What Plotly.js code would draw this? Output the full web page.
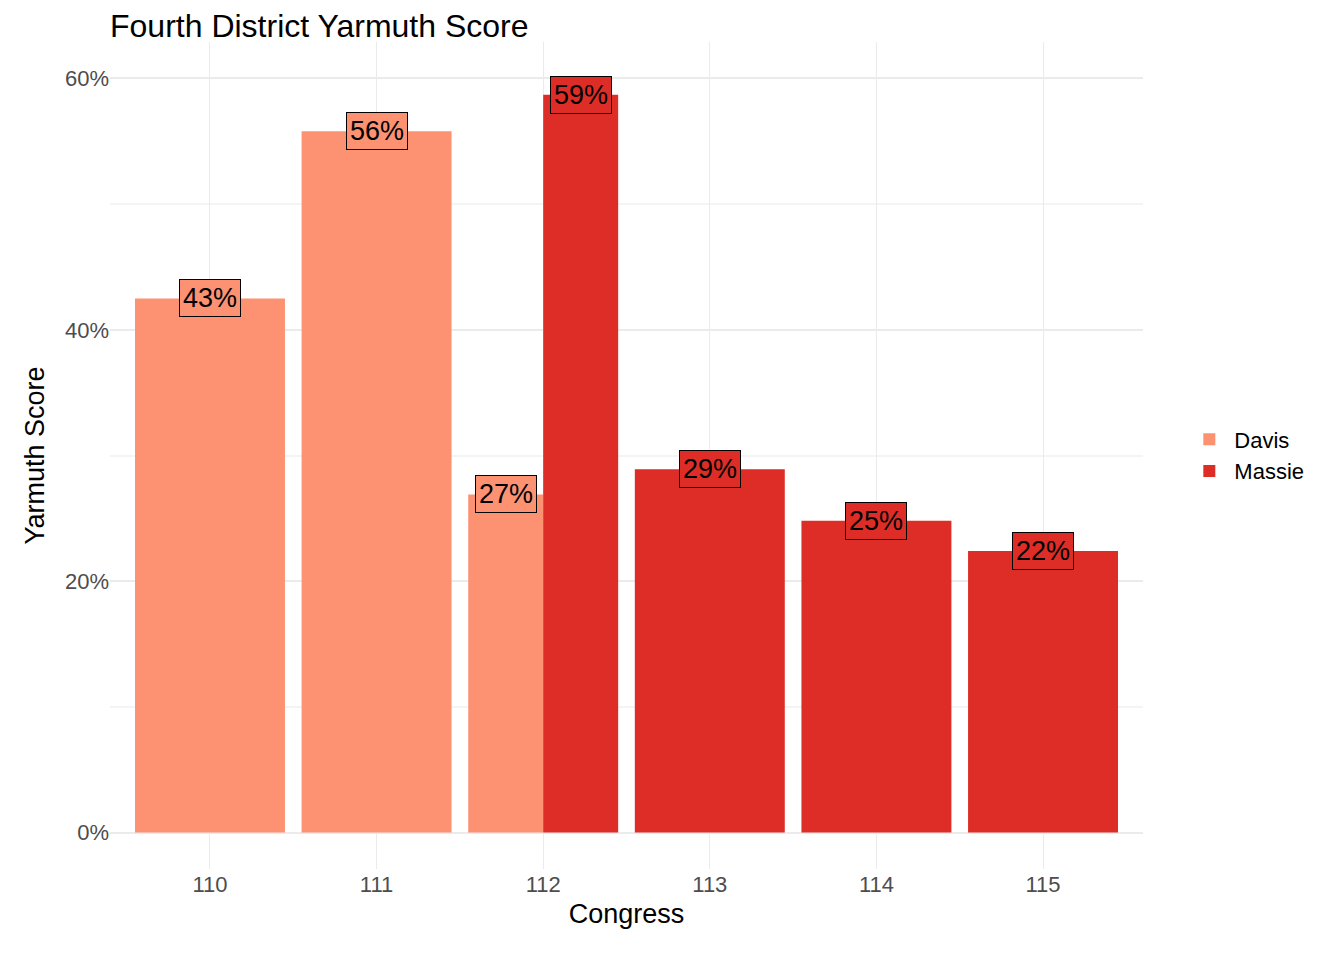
<!DOCTYPE html>
<html>
<head>
<meta charset="utf-8">
<script src="https://cdn.plot.ly/plotly-3.0.1.min.js"></script>
<style>body{margin:0;background:#fff}</style>
</head>
<body>
<div id="chart" style="width:1344px;height:960px"></div>
<script>
// Yarmuth score per congress, by representative
let davisCongress = [110, 111, 112];
let davisScore = [42.5, 55.8, 26.9];
let massieCongress = [112, 113, 114, 115];
let massieScore = [58.7, 28.9, 24.8, 22.4];

let davisColor = '#FC9272';
let massieColor = '#DE2D26';

// 112th congress is split between the two
function widths(xs) { return xs.map(x => x === 112 ? 0.45 : 0.9); }

let davis = {
    type: 'bar', name: 'Davis', x: davisCongress, y: davisScore,
    width: widths(davisCongress), offset: davisCongress.map(() => -0.45),
    marker: { color: davisColor }, hoverinfo: 'x+y'
};
let massie = {
    type: 'bar', name: 'Massie', x: massieCongress, y: massieScore,
    width: widths(massieCongress), offset: massieCongress.map(x => x === 112 ? 0 : -0.45),
    marker: { color: massieColor }, hoverinfo: 'x+y'
};

let annotations = [];
function addLabels(xs, ys, offs, ws, color) {
    for (let i = 0; i < xs.length; i++) {
        annotations.push({
            x: xs[i] + offs[i] + ws[i] / 2, y: ys[i],
            text: Math.round(ys[i]) + '%', showarrow: false,
            font: { size: 27, color: '#000', family: 'Arial, Liberation Sans' },
            bgcolor: color, bordercolor: '#000', borderwidth: 1, borderpad: 3,
            xanchor: 'center', yanchor: 'middle'
        });
    }
}
addLabels(davisCongress, davisScore, davis.offset, davis.width, davisColor);
addLabels(massieCongress, massieScore, massie.offset, massie.width, massieColor);

let layout = {
    barmode: 'overlay',
    margin: { l: 110, r: 201, t: 42, b: 91 },
    paper_bgcolor: '#fff', plot_bgcolor: '#fff',
    font: { family: 'Arial, Liberation Sans', color: '#000' },
    title: { text: 'Fourth District Yarmuth Score', x: 110 / 1344, xanchor: 'left', y: 0.985, yanchor: 'top', font: { size: 32 } },
    xaxis: {
        range: [109.4, 115.6], tickvals: [110, 111, 112, 113, 114, 115],
        showgrid: true, gridcolor: '#ebebeb', zeroline: false, ticks: '',
        tickfont: { size: 22, color: '#4d4d4d' },
        title: { text: 'Congress', font: { size: 27 }, standoff: 8 }
    },
    yaxis: {
        range: [-2.9, 62.9], tickvals: [0, 20, 40, 60], ticktext: ['0%', '20%', '40%', '60%'],
        showgrid: true, gridcolor: '#ebebeb', gridwidth: 1.5, zeroline: false, ticks: '',
        minor: { tickvals: [10, 30, 50], showgrid: true, gridcolor: '#f4f4f4' },
        tickfont: { size: 22, color: '#4d4d4d' },
        title: { text: 'Yarmuth Score', font: { size: 27 }, standoff: 12 }
    },
    legend: { x: 1.04, y: 0.5, yanchor: 'middle', font: { size: 22 }, itemwidth: 40 },
    annotations: annotations
};

Plotly.newPlot('chart', [davis, massie], layout, { displayModeBar: false });
</script>
</body>
</html>
